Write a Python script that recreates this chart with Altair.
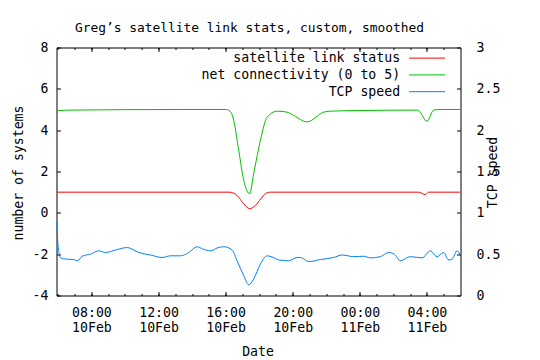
import altair as alt
import pandas as pd

# ---- data (hours since 10 Feb 00:00, values) ----
SERIES = ["satellite link status", "net connectivity (0 to 5)", "TCP speed"]
COLORS = ["#ff0000", "#00c000", "#0080ff"]

red_h = [5.94, 16.2, 16.48, 16.68, 17.08, 17.43, 17.87, 18.17, 18.47, 18.67,
         27.5, 27.9, 28.1, 29.96]
red_v = [1.0, 1.0, 0.95, 0.84, 0.44, 0.2, 0.44, 0.76, 0.97, 1.0,
         1.0, 0.88, 1.0, 1.0]

green_h = [5.94, 6.15, 6.6, 13.2, 16.05, 16.33, 16.48, 16.78, 17.08, 17.43,
           17.67, 18.07, 18.47, 19.07, 19.66, 20.06, 20.85, 21.84, 22.24, 24.0,
           27.41, 27.5, 28.0, 28.4, 28.8, 29.96]
green_v = [4.95, 4.95, 4.97, 5.0, 5.0, 4.85, 4.47, 3.02, 1.57, 0.92,
           1.89, 3.5, 4.63, 4.92, 4.87, 4.71, 4.4, 4.87, 4.92, 4.95,
           4.97, 4.95, 4.43, 4.97, 5.0, 5.0]

blue_h = [5.94, 6.0, 6.06, 6.15, 6.51, 6.93, 7.17, 7.45, 7.94, 8.44,
          8.83, 9.43, 10.13, 10.82, 11.52, 12.21, 12.71, 13.3, 13.8, 14.3,
          14.67, 15.09, 15.5, 15.88, 16.39, 16.68, 17.08, 17.37, 17.67, 18.07,
          18.47, 18.79, 19.16, 19.76, 20.26, 20.46, 20.95, 21.65, 22.44, 22.94,
          23.63, 24.23, 24.63, 25.22, 25.72, 26.06, 26.41, 27.01, 27.71, 28.2,
          28.6, 28.99, 29.29, 29.5, 29.79, 29.96]
blue_v = [0.89, 0.63, 0.52, 0.456, 0.44, 0.435, 0.42, 0.475, 0.5, 0.54,
          0.52, 0.55, 0.58, 0.52, 0.49, 0.46, 0.48, 0.48, 0.52, 0.59,
          0.56, 0.54, 0.575, 0.59, 0.55, 0.42, 0.24, 0.13, 0.2, 0.38,
          0.48, 0.465, 0.43, 0.42, 0.46, 0.46, 0.41, 0.435, 0.46, 0.49,
          0.47, 0.475, 0.455, 0.47, 0.52, 0.5, 0.42, 0.47, 0.455, 0.54,
          0.47, 0.52, 0.43, 0.44, 0.54, 0.5]

left_ticks = [-4, -2, 0, 2, 4, 6, 8]
right_ticks = [0, 0.5, 1, 1.5, 2, 2.5, 3]
major_hours = [8, 12, 16, 20, 24, 28]       # 08:00 10Feb ... 04:00 11Feb
minor_hours = list(range(6, 30))             # hourly minor ticks

BASE = pd.Timestamp("2009-02-10")


def frame(hours, values, name):
    ts = [(BASE + pd.Timedelta(hours=h)).strftime("%Y-%m-%dT%H:%M:%SZ") for h in hours]
    return pd.DataFrame({"t": ts, "v": values, "series": name})


def dt(h, m=0):
    return alt.DateTime(year=2009, month=2, date=10 + h // 24, hours=h % 24, minutes=m, utc=True)


left_df = pd.concat([frame(red_h, red_v, SERIES[0]), frame(green_h, green_v, SERIES[1])])
blue_df = frame(blue_h, blue_v, SERIES[2])

FONT = "DejaVu Sans Mono"
FS = 13.2

xscale = alt.Scale(type="utc", domain=[dt(5, 55), dt(30, 0)])
left_scale = alt.Scale(domain=[-4, 8], nice=False, zero=False)
right_scale = alt.Scale(domain=[0, 3], nice=False, zero=False)
color_scale = alt.Scale(domain=SERIES, range=COLORS)

MAJOR = [dt(h) for h in major_hours]
MINOR = [dt(h) for h in minor_hours]


def tick_axis(orient, size, values):
    return alt.Axis(orient=orient, offset=-size, tickSize=size, labels=False, domain=False,
                    grid=False, title=None, tickColor="black", tickWidth=1, values=values)


x_label_axis = alt.Axis(
    orient="bottom", ticks=False, tickSize=0, domain=False, grid=False,
    values=MAJOR,
    labelExpr="[utcFormat(datum.value, '%H:%M'), utcFormat(datum.value, '%d%b')]",
    labelPadding=11, labelLineHeight=15, labelFont=FONT, labelFontSize=FS,
    labelColor="black", labelFlush=False, labelOverlap=False,
    title="Date", titleFont=FONT, titleFontSize=FS, titleFontWeight="normal",
    titleColor="black", titleX=201, titleY=55.5, titleBaseline="middle", titleAlign="center",
)

left_label_axis = alt.Axis(
    orient="left", ticks=False, tickSize=0, domain=False, grid=False,
    values=left_ticks, labelExpr="'' + datum.value",
    labelPadding=8.5, labelFont=FONT, labelFontSize=FS, labelColor="black",
    labelBaseline="middle", labelFlush=False, labelOverlap=False,
    title="number of systems", titleFont=FONT, titleFontSize=FS, titleFontWeight="normal",
    titleColor="black", titleAngle=270, titleX=-38.5, titleY=125,
    titleAlign="center", titleBaseline="middle",
)

right_label_axis = alt.Axis(
    orient="right", ticks=False, tickSize=0, domain=False, grid=False,
    values=right_ticks, labelExpr="'' + datum.value",
    labelPadding=15.5, labelFont=FONT, labelFontSize=FS, labelColor="black",
    labelBaseline="middle", labelFlush=False, labelOverlap=False,
    title="TCP speed", titleFont=FONT, titleFontSize=FS, titleFontWeight="normal",
    titleColor="black", titleAngle=270, titleX=31.5, titleY=124.5,
    titleAlign="center", titleBaseline="middle",
)

# gnuplot-style key: right-aligned labels with the line sample to their right
legend = alt.Legend(
    orient="none", legendX=364, legendY=4, title=None, padding=0,
    labelAlign="right", labelOffset={"expr": "-33.6"}, labelLimit=0, labelFont=FONT,
    labelFontSize=FS, labelColor="black", labelBaseline="middle",
    symbolType="M-4,0H4", symbolSize=81, symbolStrokeWidth=1,
    rowPadding=2.8,
)

color = alt.Color("series:N", scale=color_scale, legend=legend)

main = alt.Chart(left_df).mark_line(interpolate="monotone", strokeWidth=1).encode(
    x=alt.X("t:T", scale=xscale, axis=x_label_axis),
    y=alt.Y("v:Q", scale=left_scale, axis=left_label_axis),
    color=color,
    detail="series:N",
)

blue = alt.Chart(blue_df).mark_line(interpolate="monotone", strokeWidth=1).encode(
    x=alt.X("t:T", scale=xscale, axis=tick_axis("bottom", 4, MAJOR)),
    y=alt.Y("v:Q", scale=right_scale, axis=right_label_axis),
    color=color,
)


def helper(xaxis, yaxis, yscale):
    return alt.Chart(blue_df).mark_line(strokeOpacity=0).encode(
        x=alt.X("t:T", scale=xscale, axis=xaxis),
        y=alt.Y("v:Q", scale=yscale, axis=yaxis),
    )


h1 = helper(tick_axis("bottom", 2, MINOR), tick_axis("left", 4, left_ticks), left_scale)
h2 = helper(tick_axis("top", 4, MAJOR), tick_axis("right", 4, right_ticks), right_scale)
h3 = helper(tick_axis("top", 2, MINOR), None, right_scale)

chart = alt.layer(main, blue, h1, h2, h3).resolve_scale(
    y="independent"
).resolve_axis(
    x="independent", y="independent"
).properties(
    width=404,
    height=248,
    autosize=alt.AutoSizeParams(type="none"),
    padding={"left": 48.5, "top": 39.5, "right": 71.5, "bottom": 61},
    title=alt.TitleParams(
        "Greg\u2019s satellite link stats, custom, smoothed",
        font=FONT, fontSize=12.9, fontWeight="normal", color="black",
        anchor="middle", frame="group", baseline="alphabetic", offset=19, dx=-9, dy=23,
    ),
).configure(background="white").configure_view(
    stroke="black", strokeWidth=1
)

chart.save("out.html", embed_options={"renderer": "svg", "actions": False})
